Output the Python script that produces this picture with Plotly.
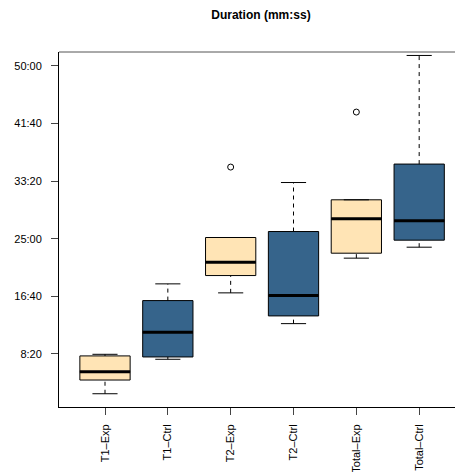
import plotly.graph_objects as go

# ---- data (seconds) ----
categories = ["T1–Exp", "T1–Ctrl", "T2–Exp", "T2–Ctrl", "Total–Exp", "Total–Ctrl"]
groups = ["exp", "ctrl", "exp", "ctrl", "exp", "ctrl"]
whisker_low = [155, 454, 1030, 763, 1331, 1426]
q1_vals = [274, 474, 1180, 830, 1374, 1487]
median_vals = [346, 688, 1296, 1006, 1672, 1655]
q3_vals = [483, 963, 1510, 1562, 1837, 2147]
whisker_high = [497, 1108, 1510, 1987, 1837, 3089]
outlier_cat = ["T2–Exp", "Total–Exp"]
outlier_vals = [2121, 2598]
ytick_vals = [500, 1000, 1500, 2000, 2500, 3000]
ytick_text = ["8:20", "16:40", "25:00", "33:20", "41:40", "50:00"]

colors = {"exp": "#FFE4B5", "ctrl": "#36648B"}
BOXW = 0.8
CAPW = 0.4

pos = list(range(1, len(categories) + 1))
fig = go.Figure()

# dashed whiskers
wx, wy = [], []
for p, lo, a, b, hi in zip(pos, whisker_low, q1_vals, q3_vals, whisker_high):
    wx += [p, p, None, p, p, None]
    wy += [lo, a, None, b, hi, None]
fig.add_trace(go.Scatter(x=wx, y=wy, mode="lines", line=dict(color="black", width=1, dash="4px,4px"),
                         hoverinfo="skip", showlegend=False))
# caps
cx, cy = [], []
for p, lo, hi in zip(pos, whisker_low, whisker_high):
    cx += [p - CAPW / 2, p + CAPW / 2, None, p - CAPW / 2, p + CAPW / 2, None]
    cy += [lo, lo, None, hi, hi, None]
fig.add_trace(go.Scatter(x=cx, y=cy, mode="lines", line=dict(color="black", width=1),
                         hoverinfo="skip", showlegend=False))

# boxes
for g in ["exp", "ctrl"]:
    idx = [i for i, gg in enumerate(groups) if gg == g]
    fig.add_trace(go.Box(
        x=[pos[i] for i in idx],
        q1=[q1_vals[i] for i in idx],
        median=[median_vals[i] for i in idx],
        q3=[q3_vals[i] for i in idx],
        lowerfence=[q1_vals[i] for i in idx],
        upperfence=[q3_vals[i] for i in idx],
        width=BOXW, fillcolor=colors[g], line=dict(color="black", width=1),
        boxpoints=False, whiskerwidth=0, hoverinfo="skip", showlegend=False))

# medians
mx, my = [], []
for p, m in zip(pos, median_vals):
    mx += [p - BOXW / 2, p + BOXW / 2, None]
    my += [m, m, None]
fig.add_trace(go.Scatter(x=mx, y=my, mode="lines", line=dict(color="black", width=3),
                         hoverinfo="skip", showlegend=False))

# outliers
fig.add_trace(go.Scatter(x=[pos[categories.index(c)] for c in outlier_cat], y=outlier_vals, mode="markers",
                         marker=dict(symbol="circle-open", size=6, color="black", line=dict(width=1)),
                         hoverinfo="skip", showlegend=False))

font = "Liberation Sans, Arial, Helvetica, sans-serif"
fig.update_layout(
    width=455, height=472,
    margin=dict(l=59, r=0, t=52, b=65),
    paper_bgcolor="white", plot_bgcolor="white",
    boxmode="overlay",
    font=dict(family=font, size=11, color="black"),
    title=dict(text="<b>Duration (mm:ss)</b>", x=0.51, xref="paper", xanchor="center",
               y=1 - 15 / 472, yanchor="middle", font=dict(size=12, family=font, color="black")),
    xaxis=dict(range=[0.268, 6.57], tickmode="array", tickvals=pos, ticktext=categories,
               tickangle=-90, ticks="outside", ticklen=7, tickcolor="#444", showgrid=False,
               zeroline=False, showline=True, linecolor="black", linewidth=1,
               ticklabelstandoff=5, tickfont=dict(size=11)),
    yaxis=dict(range=[40, 3119], tickmode="array", tickvals=ytick_vals, ticktext=ytick_text,
               ticks="outside", ticklen=7, tickcolor="#444", showgrid=False, zeroline=False,
               showline=True, linecolor="black", linewidth=1, ticklabelstandoff=7,
               tickfont=dict(size=11)),
    shapes=[dict(type="line", xref="paper", yref="paper", x0=0, x1=1, y0=1, y1=1,
                 line=dict(color="#555", width=1))],
)

fig.write_html("out.html", config={"displayModeBar": False, "staticPlot": True},
               post_script="document.body.style.margin='0';document.body.style.overflow='hidden';")
